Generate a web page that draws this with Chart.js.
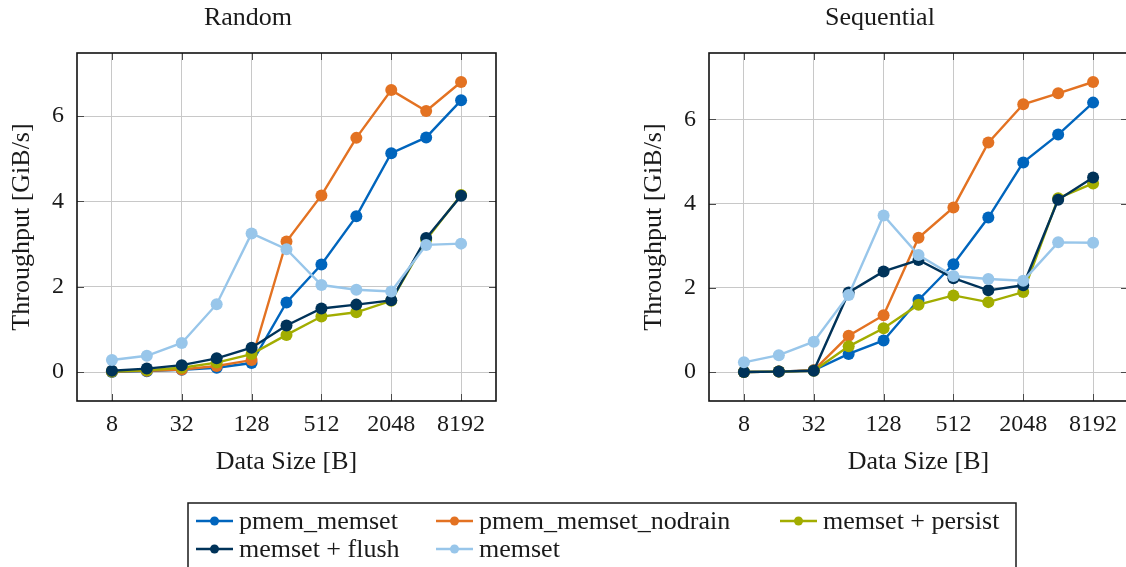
<!DOCTYPE html>
<html>
<head>
<meta charset="utf-8">
<script src="https://cdn.jsdelivr.net/npm/chart.js@4/dist/chart.umd.min.js"></script>
<style>
  html, body { margin: 0; padding: 0; background: #fff; overflow: hidden; width: 1126px; height: 567px; }
  canvas { position: absolute; }
</style>
</head>
<body>
<canvas id="rand" width="563" height="490" style="left:0px; top:0px"></canvas>
<canvas id="seq" width="563" height="490" style="left:632px; top:0px"></canvas>
<canvas id="legend" width="830" height="65" style="left:187px; top:502px"></canvas>
<script>
// Message sizes in bytes (x axis, log2 spaced)
const sizes = [8, 16, 32, 64, 128, 256, 512, 1024, 2048, 4096, 8192];
const xTickSizes = [8, 32, 128, 512, 2048, 8192];
const yTickValues = [0, 2, 4, 6];

const seriesNames = ['pmem_memset', 'pmem_memset_nodrain', 'memset + persist', 'memset + flush', 'memset'];
const seriesColors = ['#0065BD', '#E37222', '#A2AD00', '#003359', '#98C6EA'];

// Throughput in GiB/s — random access
const randPmemMemset  = [0.00, 0.02, 0.05, 0.10, 0.21, 1.63, 2.52, 3.65, 5.13, 5.50, 6.37];
const randNodrain     = [0.01, 0.03, 0.06, 0.14, 0.28, 3.06, 4.14, 5.49, 6.61, 6.12, 6.80];
const randPersist     = [0.01, 0.04, 0.10, 0.22, 0.42, 0.87, 1.30, 1.40, 1.67, 3.10, 4.15];
const randFlush       = [0.03, 0.08, 0.16, 0.32, 0.57, 1.09, 1.49, 1.58, 1.68, 3.14, 4.13];
const randMemset      = [0.28, 0.38, 0.68, 1.59, 3.25, 2.88, 2.04, 1.93, 1.89, 2.98, 3.01];

// Throughput in GiB/s — sequential access
const seqPmemMemset   = [0.00, 0.01, 0.04, 0.43, 0.75, 1.71, 2.56, 3.67, 4.98, 5.64, 6.40];
const seqNodrain      = [0.00, 0.01, 0.04, 0.86, 1.35, 3.19, 3.91, 5.45, 6.36, 6.62, 6.89];
const seqPersist      = [0.00, 0.01, 0.03, 0.61, 1.04, 1.60, 1.82, 1.66, 1.90, 4.13, 4.48];
const seqFlush        = [0.00, 0.01, 0.03, 1.89, 2.39, 2.66, 2.23, 1.94, 2.06, 4.09, 4.62];
const seqMemset       = [0.23, 0.40, 0.72, 1.83, 3.72, 2.78, 2.28, 2.21, 2.17, 3.08, 3.07];

const FONT = "'Liberation Serif', 'Times New Roman', serif";
Chart.defaults.font.family = FONT;
Chart.defaults.color = '#1a1a1a';

// Plot frame plus short inward tick marks on all four sides
const framePlugin = {
  id: 'frame',
  afterDraw(chart) {
    const { ctx, chartArea: a, scales: { x, y } } = chart;
    ctx.save();
    ctx.strokeStyle = '#4a4a4a';
    ctx.lineWidth = 1;
    ctx.beginPath();
    const len = 7;
    y.ticks.forEach(t => {
      const py = Math.round(y.getPixelForValue(t.value)) + 0.5;
      ctx.moveTo(a.left, py); ctx.lineTo(a.left + len, py);
      ctx.moveTo(a.right, py); ctx.lineTo(a.right - len, py);
    });
    x.ticks.forEach(t => {
      const px = Math.round(x.getPixelForValue(t.value)) + 0.5;
      ctx.moveTo(px, a.bottom); ctx.lineTo(px, a.bottom - len);
      ctx.moveTo(px, a.top); ctx.lineTo(px, a.top + len);
    });
    ctx.stroke();
    ctx.strokeStyle = '#111';
    ctx.lineWidth = 1.6;
    ctx.strokeRect(a.left, a.top, a.right - a.left, a.bottom - a.top);
    ctx.restore();
  }
};

function makeChart(id, title, seriesList) {
  const all = seriesList.flat();
  const yMinData = Math.min(0, ...all), yMaxData = Math.max(...all);
  const yPad = 0.1 * (yMaxData - yMinData);
  const xLo = Math.log2(sizes[0]), xHi = Math.log2(sizes[sizes.length - 1]);
  const xPad = 0.1 * (xHi - xLo);

  const datasets = seriesList.map((vals, i) => ({
    label: seriesNames[i],
    data: sizes.map((s, k) => ({ x: Math.log2(s), y: vals[k] })),
    borderColor: seriesColors[i],
    backgroundColor: seriesColors[i],
    borderWidth: 2.4,
    pointRadius: 6,
    pointBorderWidth: 0,
    pointHoverRadius: 6,
    tension: 0,
    order: seriesList.length - 1 - i,
    clip: false
  }));

  return new Chart(document.getElementById(id), {
    type: 'line',
    data: { datasets },
    plugins: [framePlugin],
    options: {
      responsive: false,
      animation: false,
      devicePixelRatio: 1,
      layout: { padding: { left: 0, right: 67, top: 0, bottom: 0 } },
      plugins: {
        legend: { display: false },
        tooltip: { enabled: false },
        title: {
          display: true, text: title, color: '#1a1a1a',
          font: { family: FONT, size: 26, weight: 'normal' },
          padding: { top: 3, bottom: 18.8 }
        }
      },
      scales: {
        x: {
          type: 'linear',
          min: xLo - xPad, max: xHi + xPad,
          afterBuildTicks: s => { s.ticks = xTickSizes.map(v => ({ value: Math.log2(v) })); },
          afterFit: s => { s.height = 89; },
          ticks: {
            callback: v => String(Math.round(Math.pow(2, v))),
            font: { family: FONT, size: 24 }, color: '#1a1a1a', padding: 9, maxRotation: 0
          },
          grid: { color: '#c8c8c8', lineWidth: 1, drawTicks: false },
          border: { display: false },
          title: {
            display: true, text: 'Data Size [B]', color: '#1a1a1a',
            font: { family: FONT, size: 26 }, padding: { top: 0, bottom: 12 }
          }
        },
        y: {
          type: 'linear',
          min: yMinData - yPad, max: yMaxData + yPad,
          afterBuildTicks: s => { s.ticks = yTickValues.map(v => ({ value: v })); },
          afterFit: s => { s.width = 77; },
          ticks: {
            font: { family: FONT, size: 24 }, color: '#1a1a1a', padding: 13
          },
          grid: { color: '#c8c8c8', lineWidth: 1, drawTicks: false },
          border: { display: false },
          title: {
            display: true, text: 'Throughput [GiB/s]', color: '#1a1a1a',
            font: { family: FONT, size: 26 }, padding: { top: 7, bottom: 0 }
          }
        }
      }
    }
  });
}

makeChart('rand', 'Random', [randPmemMemset, randNodrain, randPersist, randFlush, randMemset]);
makeChart('seq', 'Sequential', [seqPmemMemset, seqNodrain, seqPersist, seqFlush, seqMemset]);

// Shared legend below both plots: three columns, two rows, open at the bottom edge
(function drawLegend() {
  const cv = document.getElementById('legend');
  const ctx = cv.getContext('2d');
  ctx.strokeStyle = '#1a1a1a';
  ctx.lineWidth = 1.5;
  ctx.strokeRect(1, 1, cv.width - 2, cv.height + 10);
  const cols = [9, 249, 593];
  const rows = [19, 47];
  ctx.font = '26px ' + FONT;
  ctx.textBaseline = 'middle';
  ctx.textAlign = 'left';
  seriesNames.forEach((name, i) => {
    const cx = cols[i % 3], cy = rows[Math.floor(i / 3)];
    ctx.strokeStyle = seriesColors[i];
    ctx.fillStyle = seriesColors[i];
    ctx.lineWidth = 2.4;
    ctx.beginPath();
    ctx.moveTo(cx, cy); ctx.lineTo(cx + 37, cy);
    ctx.stroke();
    ctx.beginPath();
    ctx.arc(cx + 18.5, cy, 4.5, 0, Math.PI * 2);
    ctx.fill();
    ctx.fillStyle = '#1a1a1a';
    ctx.fillText(name, cx + 43, cy + 1);
  });
})();
</script>
</body>
</html>
